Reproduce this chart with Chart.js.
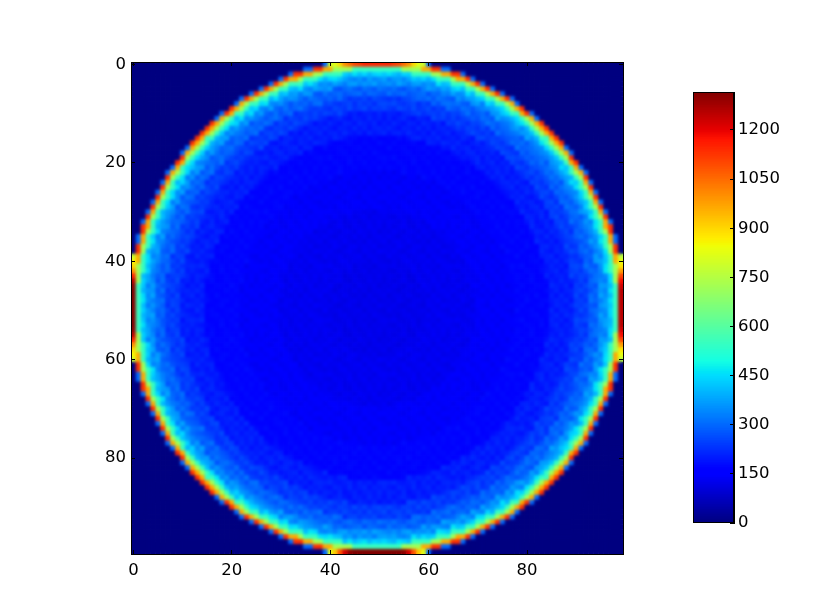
<!DOCTYPE html>
<html>
<head>
<meta charset="utf-8">
<script src="https://cdn.jsdelivr.net/npm/chart.js@4"></script>
<style>
  html, body { margin: 0; background: #fff; }
  #wrap { position: relative; width: 815px; height: 615px; }
  canvas { position: absolute; left: 0; top: 0; }
</style>
</head>
<body>
<div id="wrap">
  <canvas id="heat" width="815" height="615"></canvas>
  <canvas id="bar" width="815" height="615"></canvas>
</div>
<script>
// Half width (in cells) of each ring, per row, going from the middle row outwards
const ring10 = [10,10,10,9,9,8,8,7,5,3];
const ring20 = [20,20,20,20,19,19,19,19,18,18,17,16,16,15,14,13,11,10,8,4];
const ring28 = [28,28,28,28,28,27,27,27,27,26,26,26,25,25,24,23,23,22,21,20,19,18,17,15,14,12,9,5];
const ring35 = [35,35,35,35,35,35,34,34,34,34,33,33,33,32,32,31,31,30,30,29,28,28,27,26,25,24,23,22,20,19,17,15,13,10,6];
const ring40 = [40,40,40,40,40,40,39,39,39,39,39,38,38,38,37,37,36,36,35,35,34,34,33,32,32,31,30,29,28,27,26,25,23,22,20,18,16,14,11,6];
const ring43 = [43,43,43,43,43,43,43,42,42,42,42,41,41,41,40,40,40,39,39,38,38,37,37,36,35,35,34,33,32,31,30,29,28,27,26,24,23,21,19,17,14,11,7];
const ring45 = [45,45,45,45,45,45,45,45,45,44,44,44,44,43,43,43,42,42,42,41,41,40,40,39,38,38,37,36,35,35,34,33,32,31,30,28,27,26,24,23,21,19,16,13,9];
const ring47 = [47,47,47,47,47,47,47,46,46,46,46,46,45,45,45,44,44,44,43,43,42,42,41,41,40,39,39,38,37,37,36,35,34,33,32,31,30,28,27,25,24,22,20,18,15,12,7];
const ring48 = [48,48,48,48,48,48,48,47,47,47,47,47,46,46,46,45,45,45,44,44,43,43,42,42,41,41,40,39,39,38,37,36,35,34,33,32,31,30,29,27,26,24,22,20,18,15,12,7];
const ring49 = [49,49,49,49,49,48,48,48,48,48,48,47,47,47,47,46,46,46,45,45,44,44,43,43,42,42,41,40,40,39,38,37,36,35,35,33,32,31,30,29,27,26,24,22,20,18,15,11,5];
const ring49b = [49,49,49,49,49,49,49,49,49,48,48,48,48,47,47,47,46,46,46,45,45,44,44,43,43,42,42,41,40,39,39,38,37,36,35,34,33,32,31,29,28,27,25,23,21,19,16,13,9];
const ring50 = [50,50,50,50,50,49,49,49,49,49,49,48,48,48,48,47,47,47,46,46,45,45,44,44,43,43,42,42,41,40,39,39,38,37,36,35,34,33,32,30,29,28,26,24,22,20,18,15,11,5];
const ring50b = [50,50,50,50,50,50,50,50,50,49,49,49,49,48,48,48,48,47,47,46,46,45,45,44,44,43,43,42,41,41,40,39,38,38,37,36,35,34,32,31,30,28,27,25,23,21,19,17,13,9];
const ring51 = [50,50,50,50,50,50,50,50,50,50,50,49,49,49,49,48,48,48,47,47,46,46,45,45,44,44,43,43,42,41,40,40,39,38,37,36,35,34,33,32,30,29,28,26,24,22,20,18,15,11];

// value of the cells inside each ring
const rings = [ring10, ring20, ring28, ring35, ring40, ring43, ring45, ring47, ring48, ring49, ring49b, ring50, ring50b, ring51];
const ringValues = [122, 128, 140, 165, 200, 240, 290, 350, 430, 550, 720, 960, 1130, 300];

// the cells touching the frame, from the middle outwards
const topRow = [1150, 1150, 1150, 1120, 1100, 1050, 1000, 900, 820, 780, 300];
const bottomRow = [1316, 1316, 1316, 1316, 1316, 1300, 1220, 1080, 920, 820, 300];
const leftCol = [1316, 1316, 1316, 1316, 1300, 1250, 1150, 1000, 900, 850, 780];
const rightCol = [1250, 1250, 1250, 1250, 1220, 1180, 1100, 980, 880, 830, 760];

// blotches of the inner area, percent
const mottle = [
  [ 4,-6, 2, 8,-3,-8, 5, 1,-5, 7,-2, 3,-7],
  [-4, 7,-1,-7, 5, 3,-6, 8, 2,-3, 6,-8, 1],
  [ 6,-2,-8, 3, 1,-5, 7,-4, 4,-7, 2, 5,-1],
  [-7, 3, 5,-3, 8,-1,-6, 2,-8, 6,-4, 1, 7],
  [ 2,-5, 8, 1,-7, 4, 6,-3, 3,-1, 7,-6,-2],
  [-1, 6,-4,-8, 2, 7,-2,-7, 5, 1,-5, 8, 3],
  [ 8,-3, 1, 5,-6,-1, 3, 6,-8, 4, 2,-4,-7],
  [-6, 1,-7, 4, 7,-4, 2,-1, 6,-5, 8, 3,-2],
  [ 3, 8,-2,-5, 1, 6,-7, 4,-3, 2,-8, 5, 7],
  [-3,-7, 6, 2,-4, 8,-5, 1, 7,-6, 3,-1, 4],
  [ 5, 2,-5, 7,-8,-2, 4,-6, 1, 3,-3, 6,-4],
];

const xTicks = [0, 20, 40, 60, 80];
const yTicks = [0, 20, 40, 60, 80];
const barTicks = [0, 150, 300, 450, 600, 750, 900, 1050, 1200];
const barMax = 1316;
const gridSize = 100;

const FONT = { family: "'DejaVu Sans'", size: 16.5 };

// jet colormap
function jetPart(f, stops) {
  for (let i = 1; i < stops.length; i++) {
    if (f <= stops[i][0]) {
      const a = stops[i - 1], b = stops[i];
      return a[1] + (b[1] - a[1]) * (f - a[0]) / (b[0] - a[0]);
    }
  }
  return stops[stops.length - 1][1];
}
function jet(v) {
  const f = Math.min(1, Math.max(0, v / barMax));
  const r = jetPart(f, [[0, 0], [0.35, 0], [0.66, 1], [0.89, 1], [1, 0.5]]);
  const g = jetPart(f, [[0, 0], [0.125, 0], [0.375, 1], [0.64, 1], [0.91, 0], [1, 0]]);
  const b = jetPart(f, [[0, 0.5], [0.11, 1], [0.34, 1], [0.65, 0], [1, 0]]);
  return `rgb(${Math.round(r * 255)},${Math.round(g * 255)},${Math.round(b * 255)})`;
}

function cellValue(row, col) {
  const i = row < 50 ? 49 - row : row - 50;
  const k = col < 50 ? 49 - col : col - 50;
  if (row === 0 && k < topRow.length) return topRow[k];
  if (row === gridSize - 1 && k < bottomRow.length) return bottomRow[k];
  if (col === 0 && i < leftCol.length) return leftCol[i];
  if (col === gridSize - 1 && i < rightCol.length) return rightCol[i];
  for (let b = 0; b < rings.length; b++) {
    if (k < (rings[b][i] || 0)) {
      const v = ringValues[b];
      if (b > 8) return v;
      return v * (1 + mottle[row % mottle.length][col % mottle[0].length] / 100);
    }
  }
  return 0;
}

const cells = [];
const cellColors = [];
for (let row = 0; row < gridSize; row++) {
  for (let col = 0; col < gridSize; col++) {
    cells.push({ x: col, y: row });
    cellColors.push(jet(cellValue(row, col)));
  }
}

// smooth the cells like imshow does
const smoothCells = {
  id: "smoothCells",
  afterDatasetsDraw(chart) {
    const { ctx, canvas, chartArea: a } = chart;
    ctx.save();
    ctx.beginPath();
    ctx.rect(a.left, a.top, a.right - a.left, a.bottom - a.top);
    ctx.clip();
    ctx.filter = "blur(1.6px)";
    ctx.drawImage(canvas, 0, 0);
    ctx.restore();
  },
};

function frameAxis(position, ticks, showLabels, size) {
  const vertical = position === "left" || position === "right";
  return {
    type: "linear",
    position: position,
    min: -0.5,
    max: 99.5,
    reverse: vertical,
    afterBuildTicks: (axis) => { axis.ticks = ticks.map((v) => ({ value: v })); },
    afterFit: (axis) => {
      if (vertical) axis.width = size;
      else axis.height = size;
    },
    border: { color: "#000", width: 1, z: 1 },
    grid: { drawOnChartArea: false, tickLength: -4, tickColor: "#000", tickWidth: 1, z: 1 },
    ticks: { display: showLabels, color: "#000", font: FONT, padding: vertical ? 9 : 11, maxRotation: 0, autoSkip: false, z: 1 },
  };
}

new Chart(document.getElementById("heat"), {
  type: "scatter",
  data: {
    datasets: [{
      data: cells,
      pointStyle: "rect",
      pointRadius: 3.7,
      pointBorderWidth: 0,
      pointBackgroundColor: cellColors,
      xAxisID: "x",
      yAxisID: "y",
    }],
  },
  options: {
    responsive: false,
    animation: false,
    events: [],
    plugins: { legend: { display: false }, tooltip: { enabled: false } },
    layout: { padding: 0 },
    scales: {
      x: frameAxis("bottom", xTicks, true, 61),
      xTop: frameAxis("top", xTicks, false, 62),
      y: frameAxis("left", yTicks, true, 131),
      yRight: frameAxis("right", yTicks, false, 192),
    },
  },
  plugins: [smoothCells],
});

// colorbar
const barLevels = [];
for (let i = 0; i < 256; i++) barLevels.push(i);

const barFrame = {
  id: "barFrame",
  afterDraw(chart) {
    const { ctx, chartArea: a } = chart;
    ctx.save();
    ctx.strokeStyle = "#000";
    ctx.lineWidth = 1;
    ctx.strokeRect(Math.round(a.left) + 0.5, Math.round(a.top) + 0.5, Math.round(a.right - a.left) - 1, Math.round(a.bottom - a.top) - 1);
    ctx.restore();
  },
};

new Chart(document.getElementById("bar"), {
  type: "bar",
  data: {
    labels: [""],
    datasets: barLevels.map((i) => ({
      data: [[i * barMax / 256, (i + 1) * barMax / 256]],
      backgroundColor: jet((i + 0.5) * barMax / 256),
      borderWidth: 0,
      inflateAmount: 0.5,
      barPercentage: 1,
      categoryPercentage: 1,
      grouped: false,
    })),
  },
  options: {
    responsive: false,
    animation: false,
    events: [],
    plugins: { legend: { display: false }, tooltip: { enabled: false } },
    layout: { padding: { top: 92, bottom: 92 } },
    scales: {
      x: {
        display: false,
        afterFit: (axis) => { axis.height = 0; },
      },
      y: {
        type: "linear",
        position: "right",
        min: 0,
        max: barMax,
        afterBuildTicks: (axis) => { axis.ticks = barTicks.map((v) => ({ value: v })); },
        afterFit: (axis) => { axis.width = 81; },
        border: { color: "#000", width: 1, z: 1 },
        grid: { drawOnChartArea: false, tickLength: -4, tickColor: "#000", tickWidth: 1, z: 1 },
        ticks: { color: "#000", font: FONT, padding: 8, autoSkip: false, z: 1, callback: (v) => String(v) },
      },
      yLeft: {
        type: "linear",
        position: "left",
        min: 0,
        max: barMax,
        afterFit: (axis) => { axis.width = 693; },
        border: { display: false },
        grid: { display: false },
        ticks: { display: false },
      },
    },
  },
  plugins: [barFrame],
});
</script>
</body>
</html>
